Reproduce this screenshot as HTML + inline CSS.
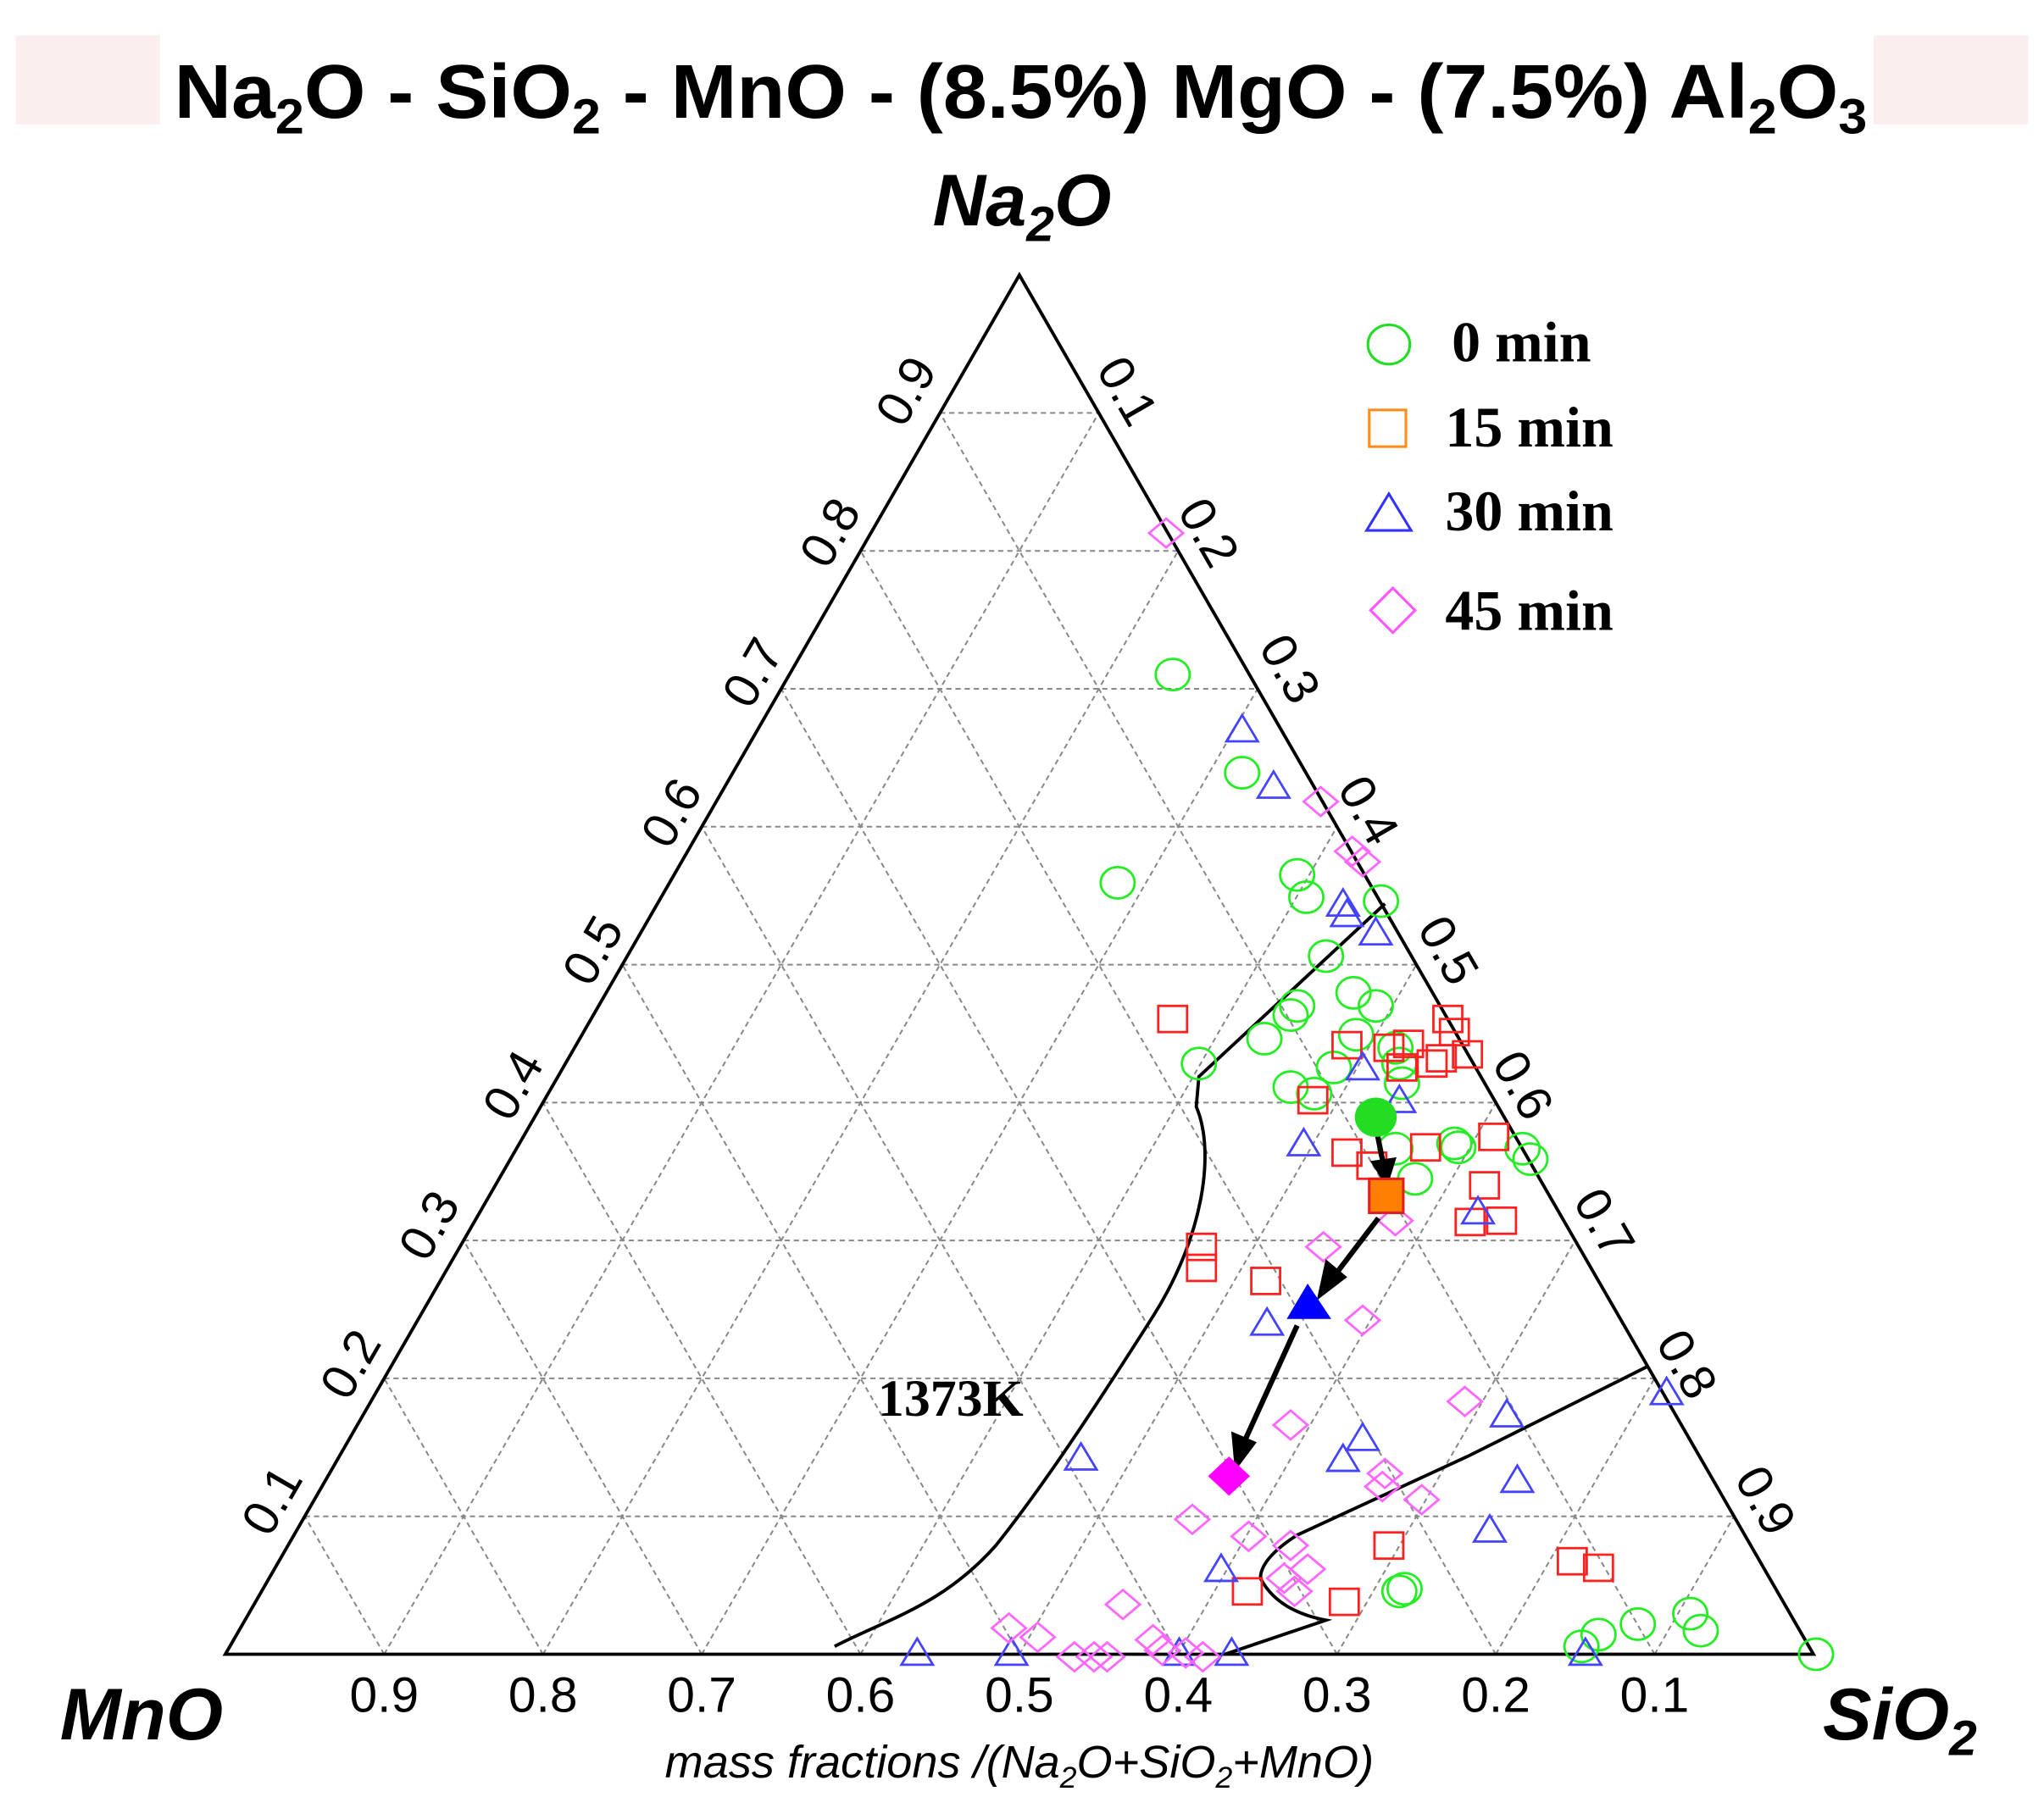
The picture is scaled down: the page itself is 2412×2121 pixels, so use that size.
<!DOCTYPE html>
<html><head><meta charset="utf-8"><style>
html,body{margin:0;padding:0;background:#fff;}
svg{display:block;}
</style></head><body>
<svg width="2412" height="2121" viewBox="0 0 1560 1372" preserveAspectRatio="none" xmlns="http://www.w3.org/2000/svg">
<rect x="0" y="0" width="1560" height="1372" fill="#fff"/>
<rect x="12" y="27" width="110" height="68" fill="#fbeeee"/>
<rect x="1430" y="27" width="118" height="68" fill="#fbeeee"/>
<text x="133" y="90" textLength="1292" lengthAdjust="spacingAndGlyphs" font-family="Liberation Sans, sans-serif" font-weight="bold" font-size="58">Na<tspan font-size="38" dy="12">2</tspan><tspan dy="-12">O - SiO</tspan><tspan font-size="38" dy="12">2</tspan><tspan dy="-12"> - MnO - (8.5%) MgO - (7.5%) Al</tspan><tspan font-size="38" dy="12">2</tspan><tspan dy="-12">O</tspan><tspan font-size="38" dy="12">3</tspan></text>
<text x="780" y="172" text-anchor="middle" font-family="Liberation Sans, sans-serif" font-weight="bold" font-style="italic" font-size="56">Na<tspan font-size="38" dy="12">2</tspan><tspan dy="-12">O</tspan></text>
<text x="108" y="1328" text-anchor="middle" font-family="Liberation Sans, sans-serif" font-weight="bold" font-style="italic" font-size="56">MnO</text>
<text x="1450" y="1328" text-anchor="middle" font-family="Liberation Sans, sans-serif" font-weight="bold" font-style="italic" font-size="56">SiO<tspan font-size="38" dy="12">2</tspan></text>
<g id="grid" stroke="#888" stroke-width="1.3" stroke-dasharray="4,3" fill="none"></g>
<polygon points="778,210 172,1263 1384,1263" fill="none" stroke="#000" stroke-width="2.5"/>
<g id="labels" font-family="Liberation Sans, sans-serif" font-size="38" fill="#000"></g>
<text x="778" y="1357" text-anchor="middle" font-family="Liberation Sans, sans-serif" font-style="italic" font-size="35">mass fractions /(Na<tspan font-size="23" dy="8">2</tspan><tspan dy="-8">O+SiO</tspan><tspan font-size="23" dy="8">2</tspan><tspan dy="-8">+MnO)</tspan></text>
<g fill="none" stroke="#000" stroke-width="2.5">
<path d="M1057,690 L915,822 L913,845 C928,880 918,945 880,1005 C845,1060 800,1130 760,1180 C720,1225 680,1235 637,1257"/>
<path d="M1258,1043 L1120,1112 L990,1172 Q962,1190 962,1205 Q975,1230 1012,1237 L935,1263"/>
</g>
<text x="670" y="1081" font-family="Liberation Serif, serif" font-weight="bold" font-size="40">1373K</text>
<g id="pts" fill="none" stroke-width="1.8"></g>
<g stroke="#000" stroke-width="4" fill="#000">
<line x1="1050" y1="860" x2="1056" y2="890"/><polygon points="1049,888 1063,886 1058,902"/>
<line x1="1052" y1="930" x2="1020" y2="972"/><polygon points="1013,965 1025,975 1008,988"/>
<line x1="990" y1="1012" x2="950" y2="1100"/><polygon points="942,1096 956,1102 944,1118"/>
</g>
<ellipse cx="1050" cy="853" rx="16" ry="15" fill="#22dd22"/>
<rect x="1045" y="900" width="26" height="26" fill="#ff7f00" stroke="#e02020" stroke-width="2"/>
<polygon points="998,980 982,1007 1016,1007" fill="#0000ff"/>
<polygon points="938,1112 954,1127 938,1142 922,1127" fill="#ff00ff"/>
<g font-family="Liberation Serif, serif" font-weight="bold" font-size="44">
<ellipse cx="1060" cy="263" rx="16" ry="15" fill="none" stroke="#22dd22" stroke-width="2"/>
<text x="1108" y="276">0 min</text>
<rect x="1045" y="313" width="28" height="28" fill="none" stroke="#ff8c1a" stroke-width="2"/>
<text x="1103" y="341">15 min</text>
<polygon points="1060,377 1043,405 1077,405" fill="none" stroke="#3333ff" stroke-width="2"/>
<text x="1103" y="405">30 min</text>
<polygon points="1063,449 1080,466 1063,483 1046,466" fill="none" stroke="#ff55ff" stroke-width="2"/>
<text x="1103" y="481">45 min</text>
</g>
<script>
var NS="http://www.w3.org/2000/svg";
var Lx=172,B=1263,W=1212,H=1053;
function P(a,s){return [Lx+s*W+a*W/2,B-a*H];}
var g=document.getElementById('grid');
function ln(p,q){var l=document.createElementNS(NS,'line');l.setAttribute('x1',p[0]);l.setAttribute('y1',p[1]);l.setAttribute('x2',q[0]);l.setAttribute('y2',q[1]);g.appendChild(l);}
for(var i=1;i<10;i++){var f=i/10;
ln(P(f,0),P(f,1-f));
ln(P(0,f),P(1-f,f));
ln(P(0,1-f),P(1-f,0));}
var lb=document.getElementById('labels');
function tx(x,y,t,r){var e=document.createElementNS(NS,'text');e.setAttribute('x',x);e.setAttribute('y',y);e.setAttribute('text-anchor','middle');e.setAttribute('dominant-baseline','middle');if(r)e.setAttribute('transform','rotate('+r+' '+x+' '+y+')');e.textContent=t;lb.appendChild(e);}
for(var i=1;i<10;i++){var f=i/10;
tx(Lx+f*W,1297,(1-f).toFixed(1),0);
}
var L=[[694,300],[636,408],[577,515],[515,622],[455,727],[394,830],[330,937],[270,1043],[210,1147]];
for(var i=0;i<9;i++)tx(L[i][0],L[i][1],((9-i)/10).toFixed(1),-60);
var R=[[858,300],[920,408],[982,512],[1042,620],[1103,727],[1160,830],[1222,935],[1285,1043],[1345,1147]];
for(var i=0;i<9;i++)tx(R[i][0],R[i][1],((i+1)/10).toFixed(1),60);
var pg=document.getElementById('pts');
function add(tag,attrs,col){var e=document.createElementNS(NS,tag);for(var k in attrs)e.setAttribute(k,attrs[k]);e.setAttribute('stroke',col);pg.appendChild(e);}
var gc=[[895,515],[948,590],[853,674],[990,668],[997,685],[1054,688],[1012,730],[1033,758],[1050,768],[990,768],[985,775],[965,793],[915,812],[1035,790],[1065,800],[1068,812],[1070,827],[985,830],[1003,835],[1018,815],[1113,876],[1110,873],[1162,877],[1168,885],[1065,877],[1080,900],[1072,1213],[1068,1215],[1250,1240],[1290,1232],[1298,1245],[1220,1248],[1207,1257],[1386,1263]];
gc.forEach(function(p){add('ellipse',{cx:p[0],cy:p[1],rx:13,ry:12},'#22ee22');});
var rs=[[895,778],[1105,778],[1110,788],[1075,797],[1028,798],[1060,800],[1093,812],[1100,808],[1120,805],[1070,815],[1002,840],[1140,868],[1088,876],[1028,880],[1047,890],[1133,905],[1122,933],[1146,932],[917,952],[917,968],[966,978],[1060,1180],[1200,1192],[1220,1197],[952,1215],[1026,1223]];
rs.forEach(function(p){add('rect',{x:p[0]-11,y:p[1]-10,width:22,height:20},'#ff2020');});
var bt=[[948,557],[972,600],[1025,690],[1028,698],[1050,712],[1040,815],[1068,840],[995,873],[1128,925],[967,1010],[825,1113],[1040,1098],[1025,1114],[1150,1080],[1158,1130],[1137,1168],[1272,1063],[932,1198],[700,1262],[772,1262],[900,1262],[940,1262],[1210,1262]];
bt.forEach(function(p){var x=p[0],y=p[1];add('polygon',{points:(x)+','+(y-11)+' '+(x-12)+','+(y+9)+' '+(x+12)+','+(y+9)},'#4444ff');});
var md=[[890,407],[1008,612],[1032,650],[1040,658],[1010,952],[1040,1008],[1118,1070],[985,1088],[1057,1125],[1055,1135],[1085,1145],[910,1160],[953,1173],[985,1180],[998,1198],[980,1205],[988,1215],[857,1225],[770,1243],[792,1250],[820,1265],[835,1265],[845,1265],[880,1252],[887,1260],[905,1262],[918,1265],[1065,932]];
md.forEach(function(p){var x=p[0],y=p[1];add('polygon',{points:x+','+(y-11)+' '+(x+13)+','+y+' '+x+','+(y+11)+' '+(x-13)+','+y},'#ff66ff');});
</script>
</svg>
</body></html>
